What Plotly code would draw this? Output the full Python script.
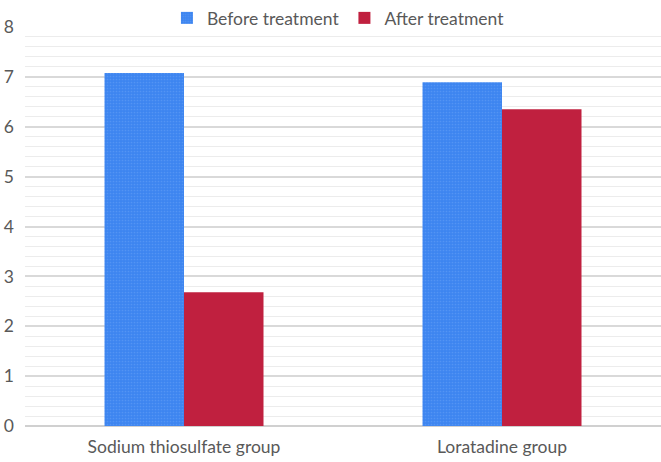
import plotly.graph_objects as go

categories = ["Sodium thiosulfate group", "Loratadine group"]
before = [7.08, 6.89]
after = [2.68, 6.35]
y_ticks = [0, 1, 2, 3, 4, 5, 6, 7, 8]

fig = go.Figure()
fig.add_trace(go.Bar(
    x=categories, y=before, name="Before treatment",
    marker=dict(color="#3d85f0", line=dict(width=0),
                pattern=dict(shape=".", fgcolor="#6aa3f5", bgcolor="#3d85f0", size=3, solidity=0.25)),
))
fig.add_trace(go.Bar(
    x=categories, y=after, name="After treatment",
    marker=dict(color="#c0203f", line=dict(width=0)),
))

fig.update_layout(
    width=661, height=462,
    margin=dict(l=25, r=0, t=27, b=36, autoexpand=False),
    paper_bgcolor="white", plot_bgcolor="white",
    barmode="group", bargap=0.5, bargroupgap=0,
    font=dict(family="Lato, 'Open Sans', sans-serif", size=17.5, color="#595959"),
    legend=dict(orientation="h", x=0.512, xanchor="center", xref="container",
                y=1.0, yanchor="top", yref="container",
                font=dict(size=17.5, color="#595959"), bgcolor="rgba(0,0,0,0)",
                itemwidth=30, traceorder="normal"),
    showlegend=True,
)
fig.update_yaxes(
    range=[0, 8], tickvals=y_ticks, ticktext=[str(v) for v in y_ticks],
    showgrid=True, gridcolor="#d9d9d9", gridwidth=1.5,
    minor=dict(dtick=0.2, showgrid=True, gridcolor="#ececec", gridwidth=1),
    zeroline=True, zerolinecolor="#d0d0d0", zerolinewidth=1.5,
    ticks="", tickfont=dict(size=17.5, color="#595959"), ticklabelstandoff=10,
    automargin=False,
)
fig.update_xaxes(showgrid=False, ticks="", tickfont=dict(size=17.5, color="#595959"),
                 ticklabelstandoff=8, automargin=False)

fig.write_html("out.html", config={"displayModeBar": False},
               post_script="document.body.style.margin='0';document.body.style.overflow='hidden';")
